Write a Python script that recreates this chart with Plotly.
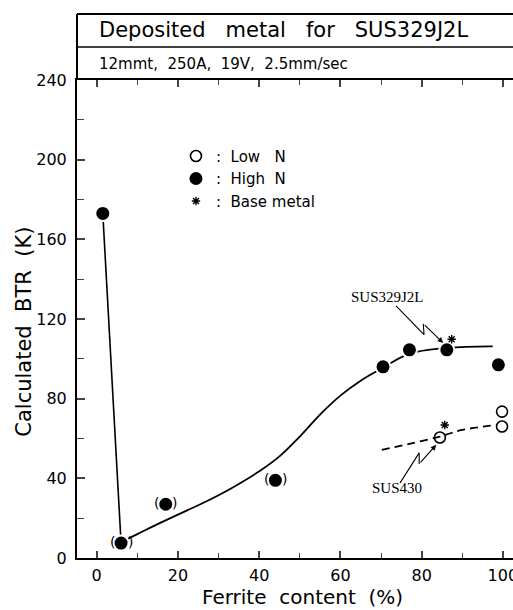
import plotly.graph_objects as go

# ---------------- data ----------------
high_n_x = [1.5, 6.0, 17.0, 44.0, 70.5, 77.0, 86.2, 98.9]
high_n_y = [173.0, 7.5, 27.0, 39.0, 96.0, 104.5, 104.5, 97.0]
bracketed_x = [6.0, 17.0, 44.0]
bracketed_y = [7.5, 27.0, 39.0]
low_n_x = [84.5, 99.8, 99.8]
low_n_y = [60.5, 73.5, 66.0]
base_x = [87.4, 85.7]
base_y = [109.8, 66.8]

drop_x = [1.5, 6.0]
drop_y = [173.0, 7.5]
trend_x = [6.0, 10.0, 15.0, 20.0, 25.0, 30.0, 35.0, 40.0, 45.0, 50.0, 55.0, 60.0, 65.0, 70.5, 77.0, 86.2, 97.5]
trend_y = [8.0, 12.0, 17.0, 21.8, 26.5, 31.5, 37.2, 43.5, 51.0, 61.0, 72.0, 81.5, 89.0, 95.5, 102.5, 105.5, 106.3]
low_trend_x = [70.2, 77.0, 84.5, 90.0, 98.5]
low_trend_y = [54.3, 57.3, 61.0, 64.3, 66.8]

x_ticks = [0, 20, 40, 60, 80, 100]
y_ticks = [0, 40, 80, 120, 160, 200, 240]

NB = "\u00a0"
title_text = f"Deposited{NB}{NB} metal{NB}{NB} for{NB}{NB} SUS329J2L"
subtitle_text = f"12mmt,{NB} 250A,{NB} 19V,{NB} 2.5mm/sec"
x_title = f"Ferrite{NB} content{NB} (%)"
y_title = f"Calculated{NB} BTR{NB} (K)"

# leader lines of the two labels (label position, zigzag points)
leader_329 = dict(label=(71.7, 131.0), pts=[(73.7, 126.6), (80.6, 112.1), (80.4, 117.6), (85.3, 108.0)])
leader_430 = dict(label=(74.0, 35.0), pts=[(74.7, 37.7), (79.4, 52.8), (79.4, 47.2), (83.6, 56.8)])

SANS = "DejaVu Sans"
SERIF = "Liberation Serif"

fig = go.Figure()

# curves
fig.add_trace(go.Scatter(x=drop_x, y=drop_y, mode="lines",
                         line=dict(color="black", width=1.6), showlegend=False, hoverinfo="skip"))
fig.add_trace(go.Scatter(x=trend_x, y=trend_y, mode="lines", line_shape="spline",
                         line=dict(color="black", width=1.8, smoothing=1.2), showlegend=False, hoverinfo="skip"))
fig.add_trace(go.Scatter(x=low_trend_x, y=low_trend_y, mode="lines", line_shape="spline",
                         line=dict(color="black", width=1.8, dash="8px,5px"), showlegend=False, hoverinfo="skip"))

# leader zigzags
for ld in (leader_329, leader_430):
    xs = [p[0] for p in ld["pts"][:-1]]
    ys = [p[1] for p in ld["pts"][:-1]]
    fig.add_trace(go.Scatter(x=xs, y=ys, mode="lines", line=dict(color="black", width=1.1),
                             showlegend=False, hoverinfo="skip"))

# markers
fig.add_trace(go.Scatter(x=low_n_x, y=low_n_y, mode="markers", name=f":{NB} Low{NB}{NB} N",
                         marker=dict(symbol="circle-open", size=11, color="black", line=dict(width=1.6))))
fig.add_trace(go.Scatter(x=high_n_x, y=high_n_y, mode="markers", name=f":{NB} High{NB} N",
                         marker=dict(symbol="circle", size=15, color="black", line=dict(color="white", width=2))))
fig.add_trace(go.Scatter(x=base_x, y=base_y, mode="markers", name=f":{NB} Base metal",
                         marker=dict(symbol="asterisk-open", size=7, color="black", line=dict(color="black", width=1.4))))

annotations = []
# parentheses around bracketed points
for bx, by in zip(bracketed_x, bracketed_y):
    for ch, sh in (("(", -9), (")", 9)):
        annotations.append(dict(x=bx, y=by, text=ch, showarrow=False, xshift=sh, yshift=1,
                                font=dict(family=SANS, size=14, color="black")))
# labels and arrowheads
for ld, txt in ((leader_329, "SUS329J2L"), (leader_430, "SUS430")):
    annotations.append(dict(x=ld["label"][0], y=ld["label"][1], text=txt, showarrow=False,
                            font=dict(family=SERIF, size=15, color="black")))
    (x0, y0), (x1, y1) = ld["pts"][-2], ld["pts"][-1]
    annotations.append(dict(x=x1, y=y1, ax=x0, ay=y0, axref="x", ayref="y", xref="x", yref="y",
                            text="", showarrow=True, arrowhead=2, arrowsize=1.0, arrowwidth=1.1,
                            arrowcolor="black"))
# header texts
annotations.append(dict(xref="paper", yref="paper", x=0.045, y=1.104, xanchor="left", yanchor="middle",
                        text=title_text, showarrow=False, font=dict(family=SANS, size=21, color="black")))
annotations.append(dict(xref="paper", yref="paper", x=0.045, y=1.034, xanchor="left", yanchor="middle",
                        text=subtitle_text, showarrow=False, font=dict(family=SANS, size=15, color="black")))
# axis titles
annotations.append(dict(xref="paper", yref="paper", x=-0.122, y=0.473, xanchor="center", yanchor="middle",
                        text=y_title, textangle=-90, showarrow=False,
                        font=dict(family=SANS, size=21, color="black")))
annotations.append(dict(xref="paper", yref="paper", x=0.518, y=-0.081, xanchor="center", yanchor="middle",
                        text=x_title, showarrow=False,
                        font=dict(family=SANS, size=20, color="black")))

shapes = [
    dict(type="line", xref="paper", yref="paper", x0=0, x1=1, y0=1.138, y1=1.138, line=dict(color="black", width=2)),
    dict(type="line", xref="paper", yref="paper", x0=0, x1=1, y0=1.069, y1=1.069, line=dict(color="black", width=1.6)),
    dict(type="line", xref="paper", yref="paper", x0=0, x1=0, y0=1.0, y1=1.138, line=dict(color="black", width=2)),
]

fig.update_layout(
    width=513, height=610,
    margin=dict(l=77, r=0, t=80, b=52, autoexpand=False),
    paper_bgcolor="white", plot_bgcolor="white",
    font=dict(family=SANS, color="black"),
    annotations=annotations, shapes=shapes,
    legend=dict(x=0.227, y=0.875, xanchor="left", yanchor="top", bgcolor="rgba(0,0,0,0)",
                font=dict(family=SANS, size=15, color="black"), traceorder="normal",
                itemwidth=30),
    xaxis=dict(range=[-4.85, 102.5], tickvals=x_ticks, ticks="inside", ticklen=7, tickwidth=1.5,
               minor=dict(dtick=10, tick0=0, ticks="inside", ticklen=5, tickwidth=1.2),
               showgrid=False, zeroline=False, showline=True, linewidth=2, linecolor="black", mirror="ticks",
               tickfont=dict(family=SANS, size=16), ticklabelstandoff=2, ticklabeloverflow="allow",
               automargin=False),
    yaxis=dict(range=[0, 240], tickvals=y_ticks, ticks="inside", ticklen=8, tickwidth=1.5,
               minor=dict(dtick=20, tick0=0, ticks="inside", ticklen=7, tickwidth=1.2),
               showgrid=False, zeroline=False, showline=True, linewidth=2, linecolor="black",
               tickfont=dict(family=SANS, size=16), ticklabelstandoff=5, automargin=False),
)

fig.write_html("out.html")
